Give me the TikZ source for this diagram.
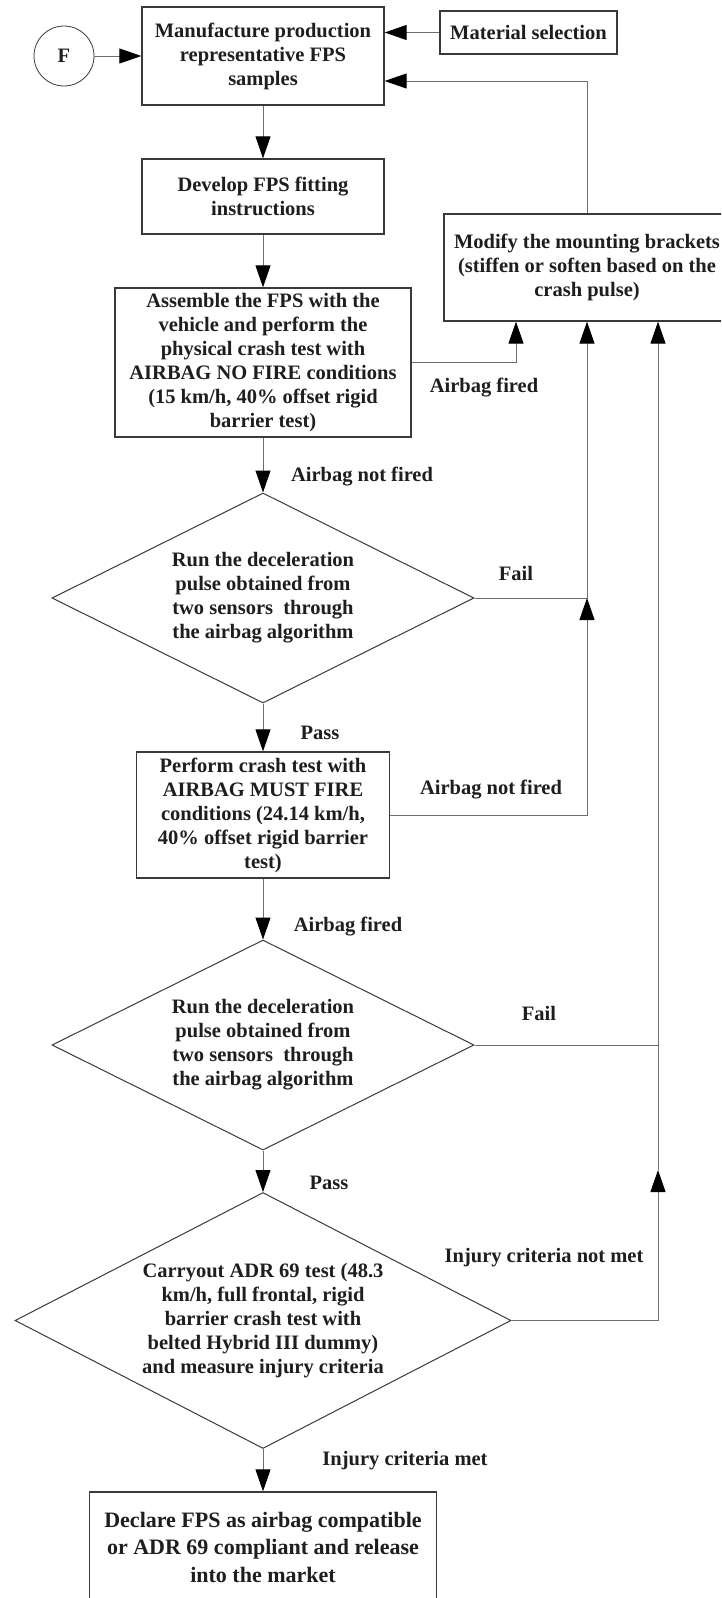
\documentclass[tikz,border=0pt]{standalone}
\usepackage{fontspec}
\setmainfont{Liberation Serif}
\usetikzlibrary{arrows.meta,shapes.geometric,calc}

\definecolor{ink}{HTML}{1E1E1E}
\definecolor{edge}{HTML}{3A3A3A}
\definecolor{wire}{HTML}{6E6E6E}

\begin{document}
\begin{tikzpicture}[x=1pt,y=-1pt,
  every node/.style={text=ink, font=\bfseries\fontsize{20.5}{24}\selectfont, inner sep=0pt, align=center},
  procbox/.style={draw=edge, line width=1.3pt, rectangle},
  decision/.style={draw=edge, line width=1pt, shape=diamond, aspect=2},
  flow/.style={draw=wire, line width=1pt, -{Triangle[length=22pt,width=15pt,color=black]}},
  plain/.style={draw=wire, line width=1pt}
]
\useasboundingbox (0,0) rectangle (721,1598);
\clip (0,0) rectangle (721,1598);
\fill[white] (0,0) rectangle (721,1598);

% process boxes
\node[draw=edge, circle, line width=0.8pt, minimum size=60pt] (F) at (64,56) {F};
\node[procbox, minimum width=242pt, minimum height=98pt] (manuf) at (263,56)
  {Manufacture production\\representative FPS\\samples};
\node[procbox, minimum width=177pt, minimum height=43pt] (material) at (528.5,32.5)
  {Material selection};
\node[procbox, minimum width=242pt, minimum height=75pt] (develop) at (263,196.5)
  {Develop FPS fitting\\instructions};
\node[procbox, minimum width=286pt, minimum height=107pt] (modify) at (587,267.5)
  {Modify the mounting brackets\\(stiffen or soften based on the\\crash pulse)};
\node[procbox, minimum width=296pt, minimum height=149pt] (assemble) at (263,362.5)
  {Assemble the FPS with the\\vehicle and perform the\\physical crash test with\\AIRBAG NO FIRE conditions\\(15 km/h, 40\% offset rigid\\barrier test)};
\node[decision, minimum width=422pt, minimum height=210pt] (d1) at (263,598)
  {Run the deceleration\\pulse obtained from\\two sensors~ through\\the airbag algorithm};
\node[procbox, minimum width=253pt, minimum height=126pt] (perform) at (263,815)
  {Perform crash test with\\AIRBAG MUST FIRE\\conditions (24.14 km/h,\\40\% offset rigid barrier\\test)};
\node[decision, minimum width=422pt, minimum height=210pt] (d2) at (263,1045)
  {Run the deceleration\\pulse obtained from\\two sensors~ through\\the airbag algorithm};
\node[decision, minimum width=496pt, minimum height=256pt] (d3) at (263,1320.5)
  {Carryout ADR 69 test (48.3\\km/h, full frontal, rigid\\barrier crash test with\\belted Hybrid III dummy)\\and measure injury criteria};
\node[procbox, minimum width=347pt, minimum height=110pt, font=\bfseries\fontsize{22}{27.5}\selectfont] (final) at (263,1547)
  {Declare FPS as airbag compatible\\or ADR 69 compliant and release\\into the market};

% junction points on the feedback buses
\coordinate (mA) at ($(modify.south)+(-71,0)$);
\coordinate (mB) at (modify.south);
\coordinate (mC) at ($(modify.south)+(71,0)$);
\coordinate (j1) at (mB |- d1.east);
\coordinate (j2) at (mC |- d2.east);
\coordinate (k2) at (658,1170);

% connectors
\draw[flow] (F.east) -- (F.east -| manuf.west);
\draw[flow] (material.west) -- (material.west -| manuf.east);
\draw[flow] (modify.north) |- ($(manuf.east)+(0,25)$);
\draw[flow] (manuf) -- (develop);
\draw[flow] (develop) -- (assemble);
\draw[flow] (assemble.east) -| (mA);
\draw[flow] (assemble) -- (d1);
\draw[flow] (d1.east) -| (mB);
\draw[flow] (d1) -- (perform);
\draw[flow] (perform.east) -| (j1);
\draw[flow] (perform) -- (d2);
\draw[flow] (d2.east) -| (mC);
\draw[flow] (d2) -- (d3);
\draw[flow] (d3.east) -| (k2);
\draw[plain] (k2) -- (j2);
\draw[flow] (d3) -- (final);

% connector labels
\node (l1) at (484,388) {Airbag fired};
\node (l2) at (362,477) {Airbag not fired};
\node (l3) at (516,573) {Fail};
\node (l4) at (320,733) {Pass};
\node (l5) at (491,790) {Airbag not fired};
\node (l6) at (348,927) {Airbag fired};
\node (l7) at (539,1013) {Fail};
\node (l8) at (329,1183) {Pass};
\node (l9) at (544,1258) {Injury criteria not met};
\node (l10) at (405,1461) {Injury criteria met};
\end{tikzpicture}
\end{document}
